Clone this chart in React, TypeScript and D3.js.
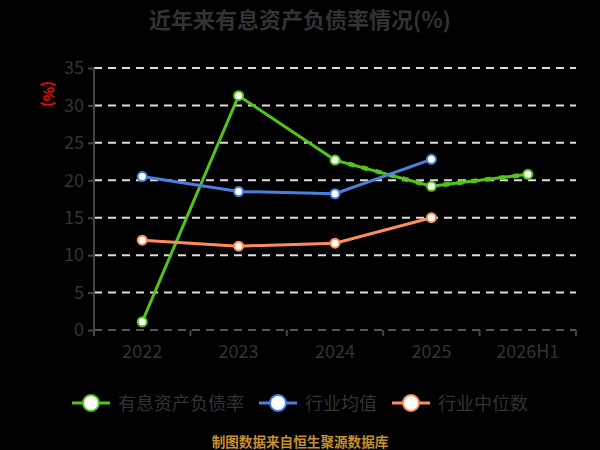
import React, { useEffect, useRef } from 'react';
import * as d3 from 'd3';

const categories = ['2022', '2023', '2024', '2025', '2026H1'];
const debtRatio = [1.1, 31.3, 22.7, 19.2, 20.8];
const industryMean = [20.5, 18.5, 18.2, 22.8];
const industryMedian = [12.0, 11.2, 11.6, 15.0];
const yTicks = [0, 5, 10, 15, 20, 25, 30, 35];

const series = [
  { name: '有息资产负债率', values: debtRatio, color: '#52c41a' },
  { name: '行业均值', values: industryMean, color: '#4a7fe0' },
  { name: '行业中位数', values: industryMedian, color: '#ff8c5a' },
];

const FONT = '"Noto Sans CJK SC", "Noto Sans", sans-serif';

const App: React.FC = () => {
  const ref = useRef<SVGSVGElement>(null);

  useEffect(() => {
    document.body.style.margin = '0';
    document.body.style.background = '#000';
    if (!ref.current) return;
    const svg = d3.select(ref.current);
    svg.selectAll('*').remove();

    const width = 600;
    const height = 450;
    const margin = { top: 68, right: 24, bottom: 120, left: 94 };
    const innerW = width - margin.left - margin.right;
    const innerH = height - margin.top - margin.bottom;

    svg.append('rect').attr('width', width).attr('height', height).attr('fill', '#000');

    // title
    svg.append('text')
      .attr('x', width / 2)
      .attr('y', 28)
      .attr('text-anchor', 'middle')
      .style('font-family', FONT)
      .style('font-size', '22px')
      .style('font-weight', 'bold')
      .attr('fill', '#333')
      .text('近年来有息资产负债率情况(%)');

    const g = svg.append('g').attr('transform', `translate(${margin.left},${margin.top})`);

    const x = d3.scaleBand().domain(categories).range([0, innerW]);
    const y = d3.scaleLinear().domain([0, 35]).range([innerH, 0]);

    // grid
    g.selectAll('.grid')
      .data(yTicks)
      .enter().append('line')
      .attr('x1', 0)
      .attr('x2', innerW)
      .attr('y1', d => y(d))
      .attr('y2', d => y(d))
      .attr('stroke', d => (d === 0 ? '#555' : '#ddd'))
      .attr('stroke-width', 2)
      .attr('stroke-dasharray', '8,6');

    // y axis
    const yAxis = g.append('g')
      .call(d3.axisLeft(y).tickValues(yTicks).tickSize(6).tickPadding(4));
    yAxis.select('.domain').attr('stroke', '#444').attr('stroke-width', 2).attr('d', `M0,0V${innerH + 5}`);
    yAxis.selectAll('.tick line').attr('stroke', '#444').attr('stroke-width', 2);
    yAxis.selectAll('.tick text')
      .attr('fill', '#333')
      .style('font-family', FONT)
      .style('font-size', '18px');

    // x axis ticks at band boundaries
    const xg = g.append('g').attr('transform', `translate(0,${innerH})`);
    const bounds = categories.map(c => x(c) || 0).concat([innerW]);
    xg.selectAll('.xt')
      .data(bounds)
      .enter().append('line')
      .attr('x1', d => d)
      .attr('x2', d => d)
      .attr('y1', 0)
      .attr('y2', 6)
      .attr('stroke', '#444')
      .attr('stroke-width', 2);
    xg.selectAll('.xl')
      .data(categories)
      .enter().append('text')
      .attr('x', d => (x(d) || 0) + x.bandwidth() / 2)
      .attr('y', 28)
      .attr('text-anchor', 'middle')
      .attr('fill', '#333')
      .style('font-family', FONT)
      .style('font-size', '18px')
      .text(d => d);

    // y unit label
    svg.append('text')
      .attr('transform', 'translate(43,94) rotate(90)')
      .attr('text-anchor', 'middle')
      .attr('fill', '#ff0000')
      .style('font-family', FONT)
      .style('font-size', '15px')
      .style('font-weight', 'bold')
      .text('(%)');

    const line = d3.line<number>()
      .x((_, i) => (x(categories[i]) || 0) + x.bandwidth() / 2)
      .y(d => y(d));

    series.forEach((s, si) => {
      g.append('path')
        .datum(s.values)
        .attr('d', line)
        .attr('fill', 'none')
        .attr('stroke', s.color)
        .attr('stroke-width', 3);
      if (si === 0) {
        // dashed overlay for the later segments
        const tail = s.values.slice(2);
        const tailLine = d3.line<number>()
          .x((_, i) => (x(categories[i + 2]) || 0) + x.bandwidth() / 2)
          .y(d => y(d));
        g.append('path')
          .datum(tail)
          .attr('d', tailLine)
          .attr('fill', 'none')
          .attr('stroke', s.color)
          .attr('stroke-width', 4.5)
          .attr('stroke-dasharray', '6,8');
      }
      g.selectAll(`.pt${si}`)
        .data(s.values)
        .enter().append('circle')
        .attr('cx', (_, i) => (x(categories[i]) || 0) + x.bandwidth() / 2)
        .attr('cy', d => y(d))
        .attr('r', 4.5)
        .attr('fill', '#fff')
        .attr('stroke', s.color)
        .attr('stroke-width', 2);
    });

    // legend
    const legendX = [72, 259, 392];
    series.forEach((s, i) => {
      const lg = svg.append('g').attr('transform', `translate(${legendX[i]},403)`);
      lg.append('line')
        .attr('x1', 0).attr('x2', 38)
        .attr('y1', 0).attr('y2', 0)
        .attr('stroke', s.color)
        .attr('stroke-width', 3);
      lg.append('circle')
        .attr('cx', 19).attr('cy', 0)
        .attr('r', 8)
        .attr('fill', '#fff')
        .attr('stroke', s.color)
        .attr('stroke-width', 2);
      lg.append('text')
        .attr('x', 46)
        .attr('y', 6.5)
        .attr('fill', '#333')
        .style('font-family', FONT)
        .style('font-size', '18px')
        .text(s.name);
    });

    // footer
    svg.append('text')
      .attr('x', width / 2)
      .attr('y', 447)
      .attr('text-anchor', 'middle')
      .attr('fill', '#c8902a')
      .style('font-family', FONT)
      .style('font-size', '13.6px')
      .style('font-weight', 'bold')
      .text('制图数据来自恒生聚源数据库');
  }, []);

  return <svg ref={ref} width={600} height={450} style={{ display: 'block' }} />;
};

export default App;
